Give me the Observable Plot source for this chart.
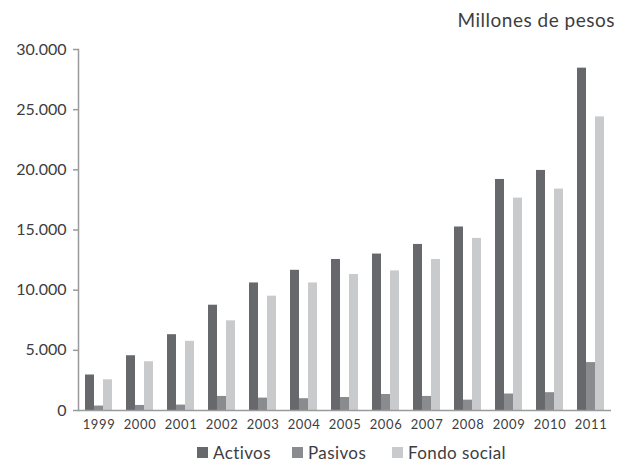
<!DOCTYPE html>
<html>
<head>
<meta charset="utf-8">
<script src="https://cdn.jsdelivr.net/npm/d3@7"></script>
<script src="https://cdn.jsdelivr.net/npm/@observablehq/plot@0.6"></script>
<style>
  html, body { margin: 0; padding: 0; background: #fff; }
  body { width: 618px; height: 466px; overflow: hidden; font-family: Lato, "Open Sans", sans-serif; color: #3d3d3f; }
  #title { height: 40px; line-height: 40px; text-align: right; padding-right: 3px; font-size: 19px; letter-spacing: 0.5px; color: #3d3d3f; }
  #legend { height: 28px; display: flex; align-items: center; padding-left: 197px; font-size: 17px; letter-spacing: 0.4px; color: #3d3d3f; }
  #legend .item { display: flex; align-items: center; }
  #legend .item:nth-child(1) { width: 95px; }
  #legend .item:nth-child(2) { width: 100px; }
  #legend .sw { width: 11px; height: 11px; margin-right: 5px; }
  #chart svg g[aria-label="fx-axis tick label"] text { letter-spacing: 0.6px; }
</style>
</head>
<body>
<div id="title">Millones de pesos</div>
<div id="chart"></div>
<div id="legend"></div>
<script>
const years = ["1999","2000","2001","2002","2003","2004","2005","2006","2007","2008","2009","2010","2011"];
const series = ["Activos", "Pasivos", "Fondo social"];
const activos = [2950, 4550, 6300, 8750, 10600, 11650, 12550, 13000, 13800, 15250, 19200, 19950, 28450];
const pasivos = [370, 420, 450, 1170, 1030, 980, 1080, 1330, 1170, 860, 1370, 1480, 3980];
const fondoSocial = [2550, 4050, 5750, 7450, 9500, 10600, 11300, 11600, 12550, 14300, 17650, 18400, 24400];
const colors = ["#67686b", "#8a8b8e", "#c9cacc"];
const yTicks = [0, 5000, 10000, 15000, 20000, 25000, 30000];

const values = [activos, pasivos, fondoSocial];
const data = [];
years.forEach((yr, i) => series.forEach((s, j) => data.push({year: yr, serie: s, value: values[j][i]})));

const fmt = d3.formatLocale({decimal: ",", thousands: ".", grouping: [3], currency: ["", ""]}).format(",d");

const chart = Plot.plot({
  width: 618,
  height: 398,
  marginTop: 9,
  marginBottom: 28,
  marginLeft: 72,
  marginRight: 2,
  style: {fontFamily: "Lato, 'Open Sans', sans-serif", color: "#3d3d3f", background: "#fff"},
  fx: {domain: years, paddingInner: 0, paddingOuter: 0, label: null},
  x: {domain: series, paddingInner: 0, paddingOuter: 0.74, axis: null},
  y: {domain: [0, 30000], label: null},
  color: {domain: series, range: colors},
  marks: [
    Plot.barY(data, {fx: "year", x: "serie", y: "value", fill: "serie"}),
    Plot.ruleY([0], {stroke: "#9a9a9c", strokeWidth: 1.5}),
    Plot.frame({anchor: "left", facetAnchor: "left", stroke: "#9a9a9c", strokeWidth: 1.5}),
    Plot.axisY({ticks: yTicks, tickFormat: fmt, tickSize: 5, tickPadding: 7, fontSize: 16, stroke: "#9a9a9c", strokeWidth: 1.5, label: null}),
    Plot.axisFx({anchor: "bottom", tickSize: 0, tickPadding: 9, fontSize: 13, label: null})
  ]
});
document.getElementById("chart").appendChild(chart);

const legend = document.getElementById("legend");
series.forEach((s, j) => {
  const item = document.createElement("div");
  item.className = "item";
  const sw = document.createElement("div");
  sw.className = "sw";
  sw.style.background = colors[j];
  const label = document.createElement("span");
  label.textContent = s;
  item.appendChild(sw);
  item.appendChild(label);
  legend.appendChild(item);
});
</script>
</body>
</html>
